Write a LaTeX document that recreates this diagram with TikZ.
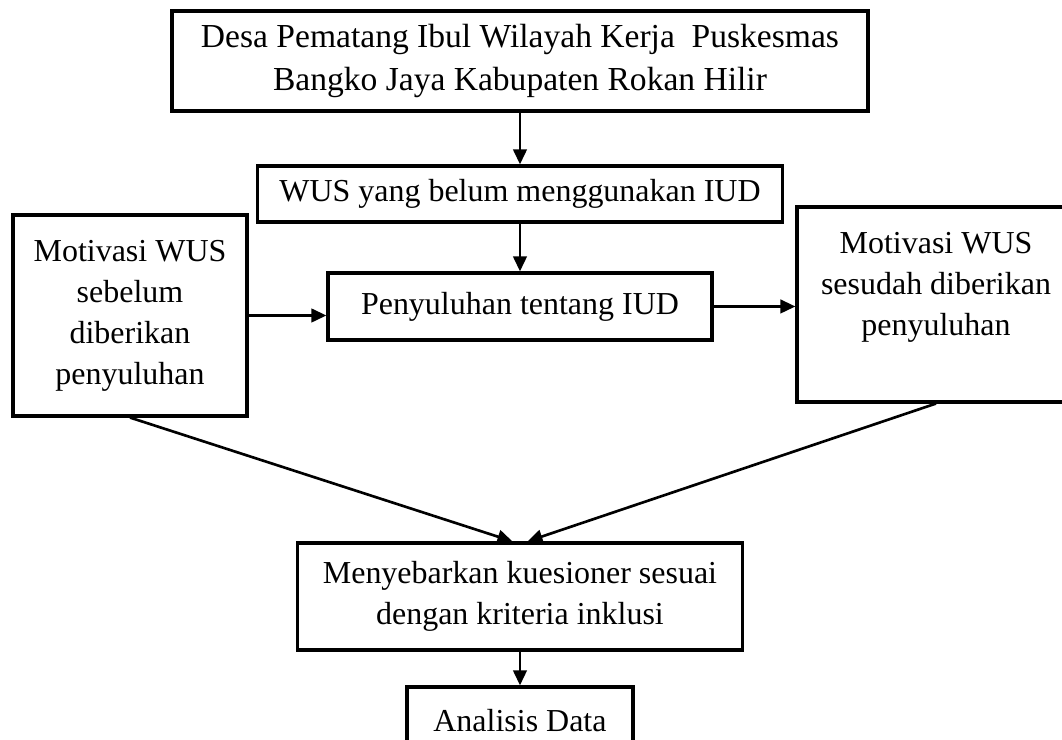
\documentclass[tikz,border=0pt]{standalone}
\usepackage{fontspec}
\setmainfont{Liberation Serif}
\usepackage{tikz}
\usetikzlibrary{arrows.meta, positioning}
\tikzset{
	box/.style      ={rectangle, draw=black, line width=1.2pt, align=center, inner sep=2pt, fill=white},
	flowarrow/.style={-{Triangle[length=2mm, width=1.8mm]}, line width=1pt},
}
\begin{document}
\begin{tikzpicture}[font=\fontsize{12.1}{15.5}\selectfont]
	\useasboundingbox (-6.916,4.076) rectangle (7.209,-5.766);
	\node[box, minimum width=9.257cm, minimum height=1.33cm, font=\fontsize{12.7}{16.4}\selectfont] (desa) at (0,3.265) {Desa Pematang Ibul Wilayah Kerja\ \ Puskesmas\\ Bangko Jaya Kabupaten Rokan Hilir};
	\node[box, minimum width=6.98cm, minimum height=0.745cm] (wus) at (0,1.496) {WUS yang belum menggunakan IUD};
	\node[box, minimum width=5.107cm, minimum height=0.891cm] (peny) at (0,0) {Penyuluhan tentang IUD};
	\node[box, minimum width=3.112cm, minimum height=2.673cm] (sebelum) at (-5.187,-0.12) {Motivasi WUS\\ sebelum\\ diberikan\\ penyuluhan};
	\node[box, minimum width=3.697cm, minimum height=2.594cm] (sesudah) at (5.533,0.027) {Motivasi WUS\\ sesudah diberikan\\ penyuluhan\\ ~};
	\node[box, minimum width=5.919cm, minimum height=1.423cm] (kues) at (0,-3.857) {Menyebarkan kuesioner sesuai\\ dengan kriteria inklusi};
	\node[box, minimum width=3.006cm, minimum height=0.891cm] (anal) at (0,-5.506) {Analisis Data};
	\draw[flowarrow] (desa) -- (wus);
	\draw[flowarrow] (wus) -- (peny);
	\draw[flowarrow] (sebelum.east) -- (sebelum.east -| peny.west);
	\draw[flowarrow] (peny.east) -- (peny.east -| sesudah.west);
	\draw[flowarrow] (sebelum.south) -- ([xshift=-1mm]kues.north);
	\draw[flowarrow] (sesudah.south) -- ([xshift=1mm]kues.north);
	\draw[flowarrow] (kues) -- (anal);
\end{tikzpicture}
\end{document}
